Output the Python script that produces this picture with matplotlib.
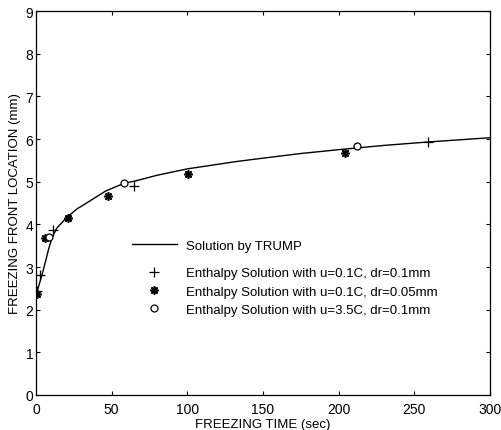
import matplotlib
matplotlib.use("Agg")
import matplotlib.pyplot as plt

plt.rcParams['font.family'] = ['Liberation Sans', 'DejaVu Sans']

# Solution by TRUMP (curve)
trump_t = [0, 0.4, 3.7, 6, 8.2, 10.4, 13.7, 20.3, 27, 33, 46, 58, 66, 80, 100, 132, 152, 175, 200, 230, 259, 300]
trump_y = [2.35, 2.39, 2.78, 3.09, 3.40, 3.67, 3.91, 4.16, 4.36, 4.49, 4.78, 4.96, 5.02, 5.15, 5.30, 5.47, 5.56, 5.66, 5.75, 5.85, 5.93, 6.03]

# Enthalpy u=0.1C, dr=0.1mm (plus)
plus_t = [0.4, 2.6, 11.5, 65, 259]
plus_y = [2.43, 2.81, 3.87, 4.90, 5.93]

# Enthalpy u=0.1C, dr=0.05mm (asterisk)
star_t = [0.4, 6.0, 20.9, 47.4, 100.3, 204.2]
star_y = [2.36, 3.67, 4.15, 4.66, 5.17, 5.68]

# Enthalpy u=3.5C, dr=0.1mm (circle)
circ_t = [8.8, 58.4, 212.4]
circ_y = [3.71, 4.97, 5.83]

xticks = [0, 50, 100, 150, 200, 250, 300]
yticks = [0, 1, 2, 3, 4, 5, 6, 7, 8, 9]

fig = plt.figure(figsize=(5.02, 4.31), dpi=100)
ax = fig.add_axes([36/502, 35/431, 454/502, 384/431])

l1, = ax.plot(trump_t, trump_y, '-', color='black', lw=1.0, label='Solution by TRUMP')
l2, = ax.plot(plus_t, plus_y, linestyle='none', marker='+', ms=7.5, mew=0.9, color='black',
              label='Enthalpy Solution with u=0.1C, dr=0.1mm')
l3, = ax.plot(star_t, star_y, linestyle='none', marker=(8, 2, 0), ms=6, mew=1.2, color='black',
              label='Enthalpy Solution with u=0.1C, dr=0.05mm')
l4, = ax.plot(circ_t, circ_y, linestyle='none', marker='o', ms=5, mew=0.9, mfc='white', mec='black',
              label='Enthalpy Solution with u=3.5C, dr=0.1mm')

ax.set_xlim(0, 300)
ax.set_ylim(0, 9)
ax.set_xticks(xticks)
ax.set_yticks(yticks)
ax.tick_params(direction='in', length=3, width=0.8, labelsize=10, top=True, right=True)
ax.tick_params(axis='x', pad=5)
ax.tick_params(axis='y', pad=2)
for s in ax.spines.values():
    s.set_linewidth(0.9)

ax.set_xlabel('FREEZING TIME (sec)', fontsize=9.5, labelpad=1.5)
ax.set_ylabel('FREEZING FRONT LOCATION (mm)', fontsize=9.5, labelpad=3)

fs = 9.5
leg1 = ax.legend(handles=[l1], loc='upper left', bbox_to_anchor=(0.2108, 0.405), frameon=False,
                 fontsize=fs, handlelength=3.4, handletextpad=0.68, borderaxespad=0, borderpad=0)
ax.add_artist(leg1)
ax.legend(handles=[l2, l3, l4], loc='upper left', bbox_to_anchor=(0.2108, 0.333), frameon=False,
          fontsize=fs, handlelength=3.4, handletextpad=0.68, labelspacing=0.45,
          borderaxespad=0, borderpad=0)

fig.savefig('out.png', dpi=100)
